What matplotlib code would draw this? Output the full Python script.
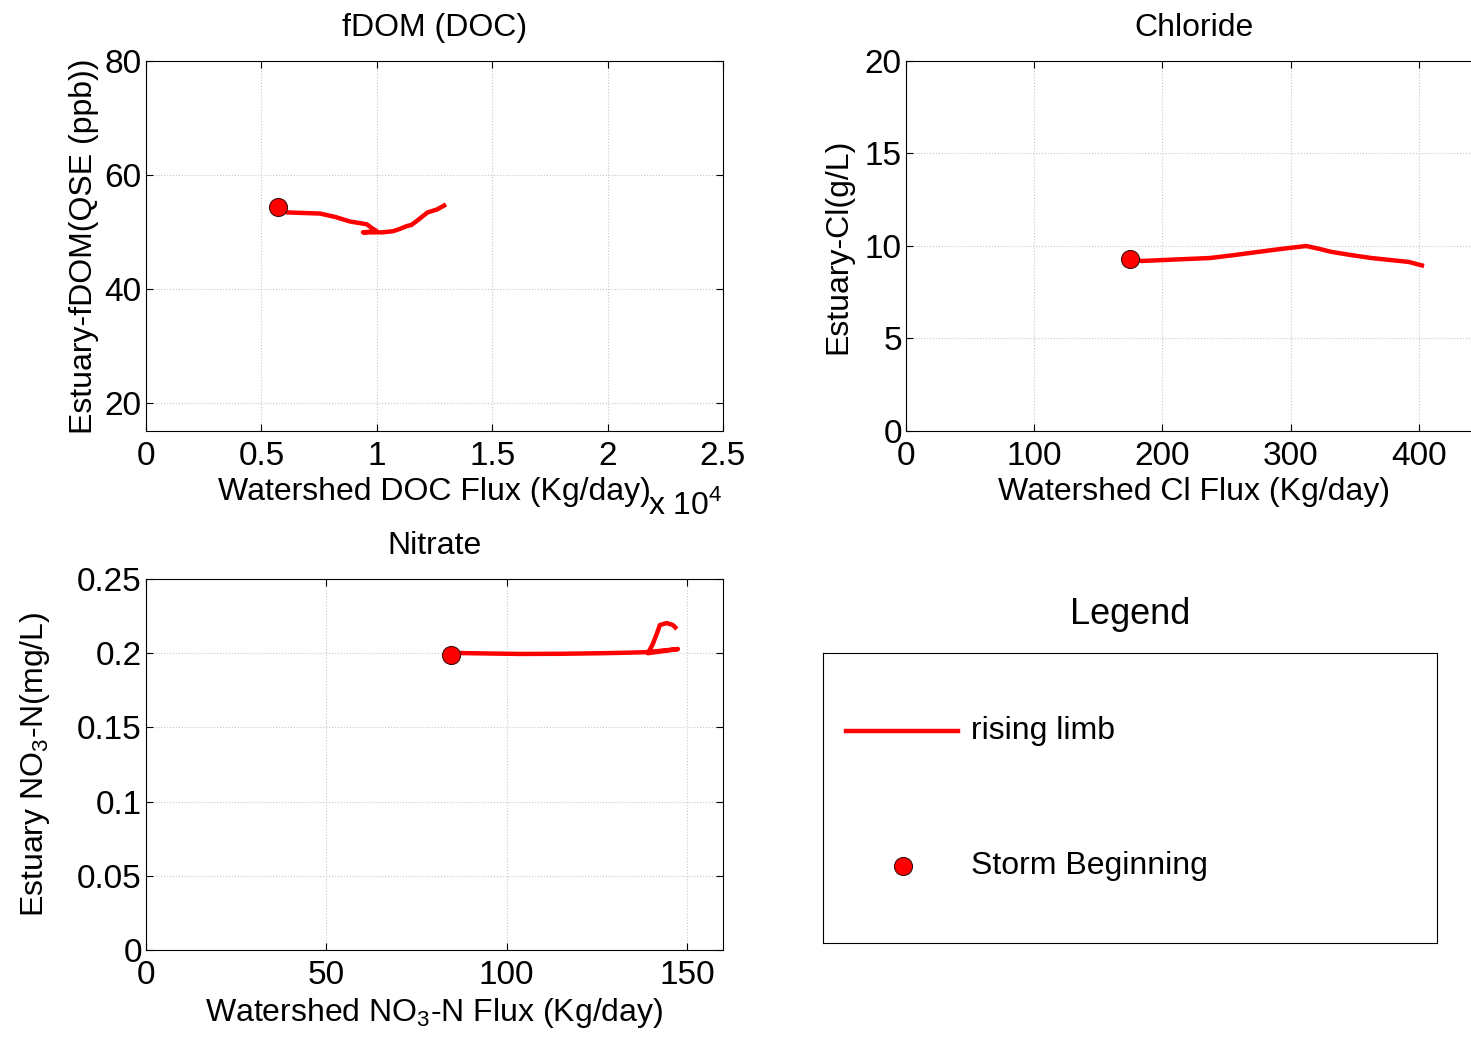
import matplotlib
matplotlib.use("Agg")
import matplotlib.pyplot as plt
from matplotlib.ticker import FuncFormatter

plt.rcParams['font.family'] = ['Liberation Sans', 'DejaVu Sans']
plt.rcParams['mathtext.fontset'] = 'custom'
plt.rcParams['mathtext.rm'] = 'Liberation Sans'

# --- data ---
doc_flux = [5720, 6100, 6800, 7540, 8200, 8840, 9300, 9570, 9800, 10000, 9400,
            10270, 10700, 11000, 11300, 11500, 11700, 11950, 12200, 12600, 13000]
doc_fdom = [54.4, 53.4, 53.3, 53.2, 52.6, 51.8, 51.5, 51.3, 50.6, 50.1, 49.9,
            49.9, 50.1, 50.5, 51.0, 51.2, 51.8, 52.6, 53.4, 53.9, 54.8]

cl_flux = [175, 184, 210, 237, 255, 268, 290, 312, 322, 332, 348, 363, 378, 392, 404]
cl_conc = [9.3, 9.19, 9.27, 9.35, 9.5, 9.62, 9.82, 10.0, 9.85, 9.68, 9.5, 9.35, 9.24, 9.14, 8.92]

no3_flux = [84.6, 87, 95, 103.7, 115, 126.7, 133, 138.9, 147.5, 139.2,
            140.5, 141.7, 142.5, 144.4, 146.1, 147.2]
no3_conc = [0.1988, 0.2001, 0.1998, 0.1995, 0.1996, 0.2000, 0.2003, 0.2007, 0.2028, 0.2000,
            0.2060, 0.2135, 0.219, 0.2203, 0.219, 0.2163]

RED = '#ff0000'
FS = 23
TFS = 24
W, H = 1471, 1039

fig = plt.figure(figsize=(W / 100, H / 100), dpi=100)


def px_axes(x0, y0, x1, y1):
    return fig.add_axes([x0 / W, 1 - y1 / H, (x1 - x0) / W, (y1 - y0) / H])


def style(ax):
    ax.grid(True, linestyle=':', color='#c8c8c8', linewidth=0.8)
    ax.tick_params(direction='in', top=True, right=True, labelsize=TFS, length=5)
    ax.tick_params(axis='x', pad=7)
    ax.tick_params(axis='y', pad=3)
    for s in ax.spines.values():
        s.set_linewidth(0.8)


def draw(ax, x, y):
    ax.plot(x, y, color=RED, lw=3.2, solid_capstyle='butt', solid_joinstyle='round')
    ax.plot(x[0], y[0], 'o', color=RED, mec='#401010', mew=0.8, ms=13)


# fDOM
ax1 = px_axes(146, 61, 723, 431)
draw(ax1, doc_flux, doc_fdom)
ax1.set_xlim(0, 25000)
ax1.set_ylim(15, 80)
ax1.set_xticks([0, 5000, 10000, 15000, 20000, 25000])
ax1.set_yticks([20, 40, 60, 80])
ax1.xaxis.set_major_formatter(FuncFormatter(lambda v, p: f'{v / 1e4:g}'))
style(ax1)
ax1.set_title('fDOM (DOC)', fontsize=FS, pad=18)
ax1.set_xlabel('Watershed DOC Flux (Kg/day)', fontsize=FS, labelpad=4)
ax1.set_ylabel('Estuary-fDOM(QSE (ppb))', fontsize=FS, labelpad=4)
ax1.text(1.0, -0.2, r'x 10$^4$', transform=ax1.transAxes, fontsize=FS,
         ha='right', va='center')

# Chloride (axes runs past the right edge of the figure, as in the source)
ax2 = px_axes(906, 61, 1483, 431)
draw(ax2, cl_flux, cl_conc)
ax2.set_xlim(0, 450)
ax2.set_ylim(0, 20)
ax2.set_xticks([0, 100, 200, 300, 400])
ax2.set_yticks([0, 5, 10, 15, 20])
style(ax2)
ax2.set_title('Chloride', fontsize=FS, pad=18)
ax2.set_xlabel('Watershed Cl Flux (Kg/day)', fontsize=FS, labelpad=4)
ax2.set_ylabel('Estuary-Cl(g/L)', fontsize=FS, labelpad=8)

# Nitrate
ax3 = px_axes(146, 579, 723, 950)
draw(ax3, no3_flux, no3_conc)
ax3.set_xlim(0, 160)
ax3.set_ylim(0, 0.25)
ax3.set_xticks([0, 50, 100, 150])
ax3.set_yticks([0, 0.05, 0.1, 0.15, 0.2, 0.25])
ax3.yaxis.set_major_formatter(FuncFormatter(lambda v, p: f'{v:g}'))
style(ax3)
ax3.set_title('Nitrate', fontsize=FS, pad=18)
ax3.set_xlabel(r'Watershed NO$_3$-N Flux (Kg/day)', fontsize=FS, labelpad=4)
ax3.set_ylabel(r'Estuary NO$_3$-N(mg/L)', fontsize=FS, labelpad=18)

# legend panel
axl = px_axes(823, 653, 1437, 943)
axl.set_xlim(823, 1437)
axl.set_ylim(943, 653)
axl.set_xticks([])
axl.set_yticks([])
for s in axl.spines.values():
    s.set_linewidth(0.8)
axl.plot([846, 958], [731, 731], color=RED, lw=3.2)
axl.text(971, 731, 'rising limb', fontsize=FS, va='center')
axl.plot([903], [866], 'o', color=RED, mec='#401010', mew=0.8, ms=13)
axl.text(971, 866, 'Storm Beginning', fontsize=FS, va='center')
fig.text(1130 / W, 1 - 615 / H, 'Legend', fontsize=26, ha='center', va='center')

fig.savefig('out.png', dpi=100)
